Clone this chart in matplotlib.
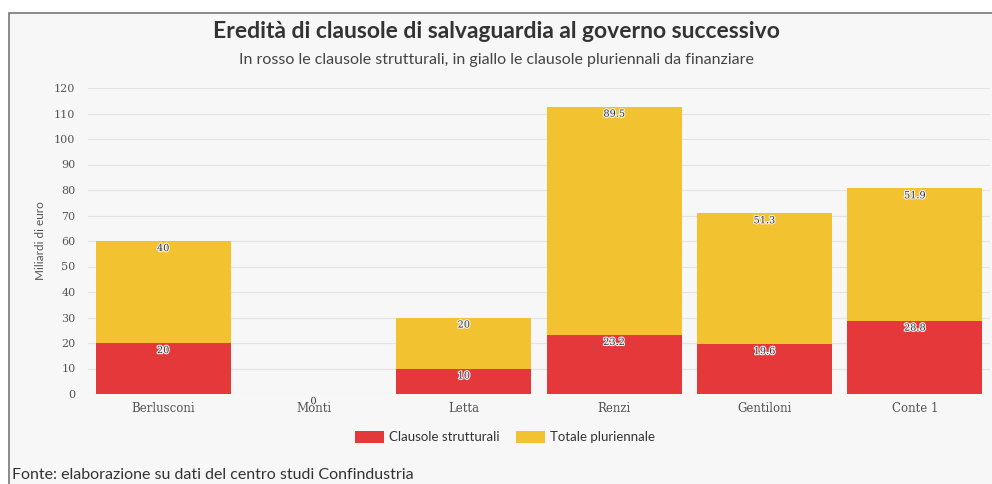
import matplotlib.pyplot as plt
import matplotlib as mpl
import matplotlib.patheffects as pe
from matplotlib.patches import Rectangle
import numpy as np

mpl.rcParams["font.family"] = ["Lato", "DejaVu Sans"]

governi = ['Berlusconi', 'Monti', 'Letta', 'Renzi', 'Gentiloni', 'Conte 1']
strutturali = [20, 0, 10, 23.2, 19.6, 28.8]
pluriennale = [40, 0, 20, 89.5, 51.3, 51.9]
label_strutt = ['20', '0', '10', '23.2', '19.6', '28.8']
label_plur = ['40', '', '20', '89.5', '51.3', '51.9']
yticks = list(range(0, 121, 10))

rosso = '#e5383b'
giallo = '#f2c230'

fig = plt.figure(figsize=(9.92, 4.84), dpi=100, facecolor='white')
# cornice del box
box = Rectangle((9 / 992, -0.01), 1.0, 1 - 13 / 484 + 0.01,
                transform=fig.transFigure, facecolor='#f7f7f7',
                edgecolor='#777777', linewidth=1.2, zorder=-1)
fig.add_artist(box)

ax = fig.add_axes([88 / 992, 1 - 394 / 484, (990 - 88) / 992, (394 - 88) / 484])
ax.set_facecolor('none')
ax.set_zorder(1)

x = np.arange(len(governi))
ax.bar(x, strutturali, width=0.9, color=rosso, label='Clausole strutturali', zorder=2)
ax.bar(x, pluriennale, width=0.9, bottom=strutturali, color=giallo,
       label='Totale pluriennale', zorder=2)

fx = [pe.withStroke(linewidth=1.6, foreground='#f4f4f4')]
for i in range(len(governi)):
    ax.text(x[i], strutturali[i] - 1.2, label_strutt[i], ha='center', va='top',
            fontsize=7, color='#333333', path_effects=fx, zorder=3,
            family=['DejaVu Serif'])
    if label_plur[i]:
        top = strutturali[i] + pluriennale[i]
        ax.text(x[i], top - 1.2, label_plur[i], ha='center', va='top',
                fontsize=7, color='#333333', path_effects=fx, zorder=3,
                family=['DejaVu Serif'])

ax.set_xlim(-0.5, 5.5)
ax.set_ylim(0, 120)
ax.set_yticks(yticks)
ax.set_yticklabels([str(t) for t in yticks], family=['DejaVu Serif'], fontsize=8,
                   color='#555555')
ax.set_xticks(x)
ax.set_xticklabels(governi, fontsize=8.5, color='#555555', family=['DejaVu Serif'])
ax.tick_params(axis='y', length=0, pad=9)
ax.tick_params(axis='x', length=0, pad=6)
ax.grid(axis='y', color='#e4e4e4', linewidth=0.8, zorder=0)
for s in ax.spines.values():
    s.set_visible(False)
ax.set_ylabel('Miliardi di euro', fontsize=8.5, color='#555555', labelpad=6)

fig.text(0.5, 1 - 32 / 484, 'Eredità di clausole di salvaguardia al governo successivo',
         ha='center', va='center', fontsize=16.5, fontweight='bold', color='#333333')
fig.text(0.5, 1 - 60 / 484,
         'In rosso le clausole strutturali, in giallo le clausole pluriennali da finanziare',
         ha='center', va='center', fontsize=11.5, color='#444444')

fig.legend(*ax.get_legend_handles_labels(), loc='center',
           bbox_to_anchor=(505 / 992, 1 - 437 / 484), ncol=2, frameon=False,
           fontsize=9.5, handlelength=2.2, handleheight=1.1, columnspacing=1.2,
           handletextpad=0.4, labelcolor='#333333')

fig.text(12 / 992, 1 - 475 / 484, 'Fonte: elaborazione su dati del centro studi Confindustria',
         ha='left', va='center', fontsize=11.5, color='#333333')

fig.savefig('out.png', dpi=100, facecolor='white')
